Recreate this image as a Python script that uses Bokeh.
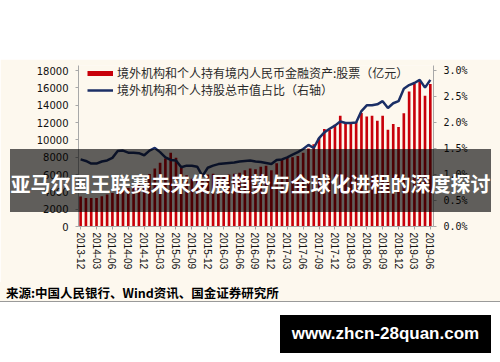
from bokeh.plotting import figure
from bokeh.models import (Range1d, LinearAxis, FixedTicker, PrintfTickFormatter,
                          Legend, LegendItem, Div, ColumnDataSource)
from bokeh.layouts import column
from bokeh.embed import file_html
from bokeh.resources import INLINE

# ---------------- data ----------------
tick_labels = ["2013-12", "2014-03", "2014-06", "2014-09", "2014-12", "2015-03",
               "2015-06", "2015-09", "2015-12", "2016-03", "2016-06", "2016-09",
               "2016-12", "2017-03", "2017-06", "2017-09", "2017-12", "2018-03",
               "2018-06", "2018-09", "2018-12", "2019-03", "2019-06"]

# 境外机构和个人持有境内人民币金融资产:股票（亿元）, monthly 2013-12 .. 2019-06
holdings = [3450, 3290, 3290, 3300, 3480, 3680, 3870, 4260, 4260, 4450,
            4640, 4840, 5420, 6070, 6700, 7350, 7860, 8500, 7930, 6800,
            5900, 5500, 5300, 5400, 5990, 6100, 5900, 5800, 6000, 6100,
            6200, 6500, 6700, 6600, 6900, 7000, 6500, 7300, 7800, 7950,
            8000, 8130, 8500, 9000, 9500, 10200, 11260, 11150, 11730, 12770,
            11840, 11900, 12070, 13100, 12690, 12770, 12190, 12770, 11150, 11840,
            11490, 13080, 15590, 16500, 16750, 15090, 16450]

# 境外机构和个人持股总市值占比（右轴, %）
share_pct = [1.29, 1.26, 1.21, 1.21, 1.25, 1.27, 1.32, 1.45, 1.46, 1.42,
             1.42, 1.41, 1.37, 1.46, 1.51, 1.43, 1.33, 1.28, 1.27, 1.14,
             1.17, 1.17, 1.15, 0.97, 1.13, 1.17, 1.20, 1.21, 1.22, 1.23,
             1.25, 1.26, 1.27, 1.25, 1.24, 1.22, 1.20, 1.28, 1.29, 1.33,
             1.38, 1.43, 1.49, 1.57, 1.51, 1.70, 1.81, 1.88, 1.94, 2.02,
             1.99, 1.99, 2.00, 2.22, 2.33, 2.33, 2.35, 2.41, 2.28, 2.37,
             2.41, 2.65, 2.72, 2.76, 2.82, 2.67, 2.82]

bar_label = "境外机构和个人持有境内人民币金融资产:股票（亿元）"
line_label = "境外机构和个人持股总市值占比（右轴）"
title_text = "亚马尔国王联赛未来发展趋势与全球化进程的深度探讨"
source_text = "来源:中国人民银行、Wind资讯、国金证券研究所"
watermark = "www.zhcn-28quan.com"

idx = list(range(len(holdings)))
src = ColumnDataSource(dict(x=idx, bar=holdings, pct=share_pct))

CREAM = "#FDF8EE"
AXIS_GRAY = "#a8a8a8"
RED = "#C8000A"

# frame: x 78..433, y 65..226 (18000 / 3.0% sit at y=70)
p = figure(width=500, height=223, output_backend="svg", toolbar_location=None,
           x_range=Range1d(-0.4, 66.6), y_range=Range1d(0, 18577),
           min_border_left=78, min_border_right=67, min_border_top=6,
           min_border_bottom=56,
           background_fill_color=CREAM, border_fill_color=CREAM,
           outline_line_color=None)
p.extra_y_ranges = {"pct": Range1d(0, 3.0962)}
p.xgrid.visible = False
p.ygrid.visible = False

bars = p.vbar(x="x", top="bar", width=0.5, source=src,
              fill_color=RED, line_color=None)
line = p.line(x="x", y="pct", source=src, y_range_name="pct",
              line_color="#1B2F66", line_width=2.5)
# hidden renderer that only supplies the thin red legend swatch for the bars
swatch = p.line(x="x", y="bar", source=src, line_color=RED, line_width=5,
                visible=False)

# x axis
xa = p.xaxis[0]
xa.ticker = FixedTicker(ticks=[3 * i for i in range(len(tick_labels))])
xa.major_label_overrides = {3 * i: t for i, t in enumerate(tick_labels)}
xa.major_label_orientation = "vertical"
xa.major_label_text_font = "Liberation Sans"
xa.major_label_text_font_size = "10px"
xa.major_label_text_color = "#111111"
xa.major_label_standoff = 3
xa.major_tick_in = 0
xa.major_tick_out = 3
xa.minor_tick_out = 0
xa.minor_tick_in = 0
xa.axis_line_color = AXIS_GRAY
xa.major_tick_line_color = AXIS_GRAY

# left axis
ya = p.yaxis[0]
ya.ticker = FixedTicker(ticks=list(range(0, 18001, 2000)))
ya.major_label_text_font = "DejaVu Sans"
ya.major_label_text_font_size = "10px"
ya.major_label_text_color = "#111111"
ya.major_label_standoff = 7
ya.major_tick_in = 0
ya.major_tick_out = 3
ya.minor_tick_out = 0
ya.minor_tick_in = 0
ya.axis_line_color = AXIS_GRAY
ya.major_tick_line_color = AXIS_GRAY

# right axis
ra = LinearAxis(y_range_name="pct",
                ticker=FixedTicker(ticks=[0, 0.5, 1.0, 1.5, 2.0, 2.5, 3.0]),
                formatter=PrintfTickFormatter(format="%.1f%%"))
ra.major_label_text_font = "DejaVu Sans Mono"
ra.major_label_text_font_size = "10px"
ra.major_label_text_color = "#111111"
ra.major_label_standoff = 7
ra.major_tick_in = 0
ra.major_tick_out = 3
ra.minor_tick_out = 0
ra.minor_tick_in = 0
ra.axis_line_color = AXIS_GRAY
ra.major_tick_line_color = AXIS_GRAY
p.add_layout(ra, "right")

legend = Legend(items=[LegendItem(label=bar_label, renderers=[swatch]),
                       LegendItem(label=line_label, renderers=[line])],
                location=(9, 128), orientation="vertical",
                glyph_width=26, glyph_height=14, label_height=14,
                spacing=0, padding=0, margin=0, label_standoff=4,
                background_fill_alpha=0, border_line_color=None,
                label_text_font="Noto Sans CJK SC",
                label_text_font_size="12px", label_text_color="#2a2a2a")
p.add_layout(legend)

top = Div(text="", width=500, height=59, margin=0,
          styles={"background-color": "#ffffff"})

source_div = Div(
    text=('<div style="width:494px;height:19px;padding-left:6px;'
          'background:%s;font-family:\'Noto Sans CJK SC\';font-weight:bold;'
          'font-size:12.5px;line-height:22px;color:#000;white-space:nowrap;">%s</div>'
          % (CREAM, source_text)),
    width=500, height=19, margin=0, styles={"background-color": CREAM})

bottom_html = (
    '<div style="width:500px;height:60px;border-top:1px solid #9a9a9a;'
    'position:relative;background:#ffffff;">'
    '<div style="position:absolute;left:280px;top:13px;width:211px;height:38px;'
    'background:#000;color:#fff;font-family:\'Liberation Sans\';font-weight:bold;'
    'font-size:17px;display:flex;align-items:center;justify-content:center;">'
    + watermark + '</div></div>')
bottom = Div(text=bottom_html, width=500, height=61, margin=0)

overlay = Div(
    text=('<div style="width:481px;height:63px;background:rgba(0,0,0,0.62);'
          'color:#fff;font-family:\'Noto Sans CJK SC\';font-weight:bold;'
          'font-size:20px;display:flex;align-items:center;justify-content:center;'
          'padding-top:8px;box-sizing:border-box;white-space:nowrap;">%s</div>'
          % title_text),
    width=481, height=63, margin=0,
    styles={"position": "absolute", "left": "10px", "top": "149px",
            "z-index": "10"})

layout = column(top, p, source_div, bottom, overlay, spacing=0)
open("out.html", "w").write(file_html(layout, INLINE))
